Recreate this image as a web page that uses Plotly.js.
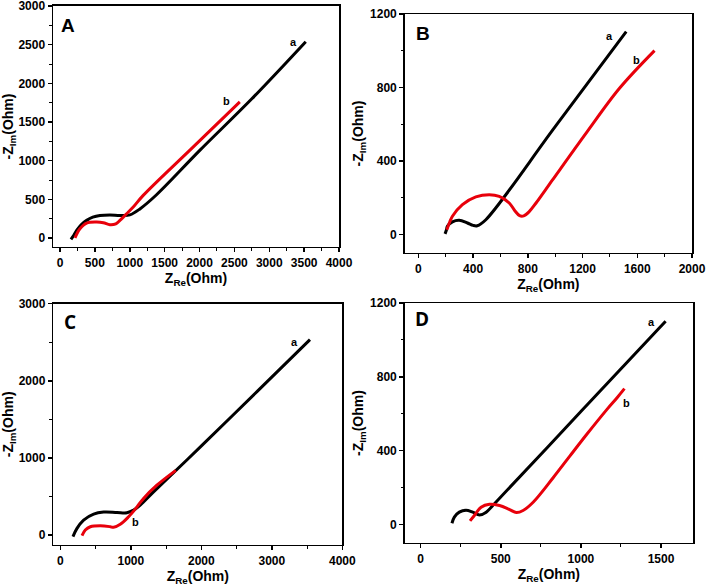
<!DOCTYPE html>
<html>
<head>
<meta charset="utf-8">
<script src="https://cdn.plot.ly/plotly-3.0.1.min.js"></script>
<style>html,body{margin:0;padding:0;background:#fff}#chart{width:706px;height:586px}</style>
</head>
<body>
<div id="chart"></div>
<script>
// Panel A
const aX_A = [157, 200, 239, 300, 382, 470, 573, 716, 859, 1002, 1150, 1384, 2000, 2750, 3523];
const aY_A = [-17, 40, 99, 170, 229, 270, 293, 300, 293, 300, 380, 560, 1130, 1800, 2538];
const bX_A = [215, 250, 286, 382, 525, 621, 716, 800, 859, 955, 1050, 1193, 1900, 2578];
const bY_A = [4, 70, 121, 194, 207, 199, 173, 185, 229, 315, 401, 552, 1170, 1761];
// Panel B
const aX_B = [195, 205, 212, 249, 298, 359, 400, 430, 493, 1000, 1519];
const aY_B = [4, 25, 45, 69, 78, 63, 50, 48, 81, 587, 1104];
const bX_B = [208, 230, 249, 322, 420, 518, 591, 664, 705, 740, 770, 810, 860, 982, 1226, 1470, 1726];
const bY_B = [27, 70, 100, 163, 205, 217, 208, 172, 130, 103, 102, 125, 172, 299, 552, 796, 1001];
// Panel C
const aX_C = [179, 236, 330, 472, 614, 803, 944, 1039, 1133, 1322, 1983, 2800, 3541];
const aY_C = [-21, 86, 193, 271, 297, 292, 288, 322, 387, 559, 1139, 1870, 2535];
const bX_C = [307, 354, 425, 567, 708, 755, 850, 968, 1039, 1180, 1369, 1638];
const bY_C = [-9, 64, 107, 120, 107, 99, 138, 236, 309, 473, 645, 838];
// Panel D
const aX_D = [195, 210, 241, 283, 325, 367, 409, 450, 1000, 1529];
const aY_D = [7, 40, 67, 77, 67, 52, 67, 103, 612, 1101];
const bX_D = [308, 335, 377, 429, 492, 555, 597, 639, 702, 828, 932, 1037, 1163, 1226, 1272];
const bY_D = [20, 49, 94, 110, 103, 81, 65, 76, 121, 255, 372, 489, 624, 687, 736];

const panelLetters = ['A', 'B', 'C', 'D'];
const seriesNames = ['a', 'b'];
const xTitle = '<b>Z<sub>Re</sub>(Ohm)</b>';
const yTitle = '<b>-Z<sub>Im</sub>(Ohm)</b>';

const FONT = 'Liberation Sans, Arial, sans-serif';
function line(x, y, color, xa, ya) {
  return {x: x, y: y, type: 'scatter', mode: 'lines', xaxis: xa, yaxis: ya,
    line: {color: color, width: 3, shape: 'spline', smoothing: 1}, showlegend: false, hoverinfo: 'skip'};
}
const data = [
  line(aX_A, aY_A, '#000000', 'x', 'y'), line(bX_A, bY_A, '#e8000b', 'x', 'y'),
  line(aX_B, aY_B, '#000000', 'x2', 'y2'), line(bX_B, bY_B, '#e8000b', 'x2', 'y2'),
  line(aX_C, aY_C, '#000000', 'x3', 'y3'), line(bX_C, bY_C, '#e8000b', 'x3', 'y3'),
  line(aX_D, aY_D, '#000000', 'x4', 'y4'), line(bX_D, bY_D, '#e8000b', 'x4', 'y4')
];

function ax(domain, range, dtick, minor, anchor, isX) {
  return {
    domain: domain, range: range, anchor: anchor, dtick: dtick, tick0: 0,
    showgrid: false, zeroline: false, showline: true, mirror: true,
    linecolor: '#000', linewidth: 1.5, ticks: 'outside', ticklen: 4, tickwidth: 1.5, tickcolor: '#000',
    minor: {dtick: minor, tick0: 0, ticks: 'outside', ticklen: 2.5, tickwidth: 1, tickcolor: '#000'},
    tickfont: {family: FONT, size: 12, color: '#000', weight: 'bold'},
    ticklabeloverflow: 'allow',
    title: {text: isX ? xTitle : yTitle, font: {family: FONT, size: 14, color: '#000'}, standoff: isX ? 0 : 3},
    fixedrange: true
  };
}

const layout = {
  width: 706, height: 586, margin: {l: 0, r: 0, t: 0, b: 0},
  paper_bgcolor: '#fff', plot_bgcolor: '#fff',
  xaxis: ax([0.0751, 0.4802], [-100, 4000], 500, 250, 'y', true),
  yaxis: ax([0.5785, 0.9898], [-115, 3000], 500, 250, 'x', false),
  xaxis2: ax([0.5732, 0.9802], [-100, 2000], 400, 200, 'y2', true),
  yaxis2: ax([0.5683, 0.9761], [-100, 1200], 400, 200, 'x2', false),
  xaxis3: ax([0.0755, 0.4849], [-100, 4000], 1000, 500, 'y3', true),
  yaxis3: ax([0.0700, 0.4817], [-130, 3000], 1000, 500, 'x3', false),
  xaxis4: ax([0.5732, 0.9816], [-100, 1700], 500, 250, 'y4', true),
  yaxis4: ax([0.0734, 0.4829], [-100, 1200], 400, 200, 'x4', false),
  annotations: []
};

const letterPos = [[68, 26], [423, 34], [70, 322], [422, 319]];
const letterFont = [FONT, FONT, 'Open Sans, sans-serif', 'Open Sans, sans-serif'];
panelLetters.forEach((t, i) => {
  layout.annotations.push({text: '<b>' + t + '</b>', xref: 'paper', yref: 'paper',
    x: letterPos[i][0] / 706, y: 1 - letterPos[i][1] / 586, xanchor: 'center', yanchor: 'middle',
    showarrow: false, font: {family: letterFont[i], size: 19, color: '#000'}});
});

const labelPos = [
  [['x', 'y'], [3341, 2529], [2387, 1770]],
  [['x2', 'y2'], [1397, 1082], [1592, 950]],
  [['x3', 'y3'], [3319, 2505], [1062, 163]],
  [['x4', 'y4'], [1441, 1096], [1284, 660]]
];
labelPos.forEach(p => {
  [1, 2].forEach(k => {
    layout.annotations.push({text: '<b>' + seriesNames[k - 1] + '</b>', xref: p[0][0], yref: p[0][1],
      x: p[k][0], y: p[k][1], showarrow: false, xanchor: 'center', yanchor: 'middle',
      font: {family: FONT, size: 11, color: '#000'}});
  });
});

Plotly.newPlot('chart', data, layout, {staticPlot: true, displayModeBar: false});
</script>
</body>
</html>
